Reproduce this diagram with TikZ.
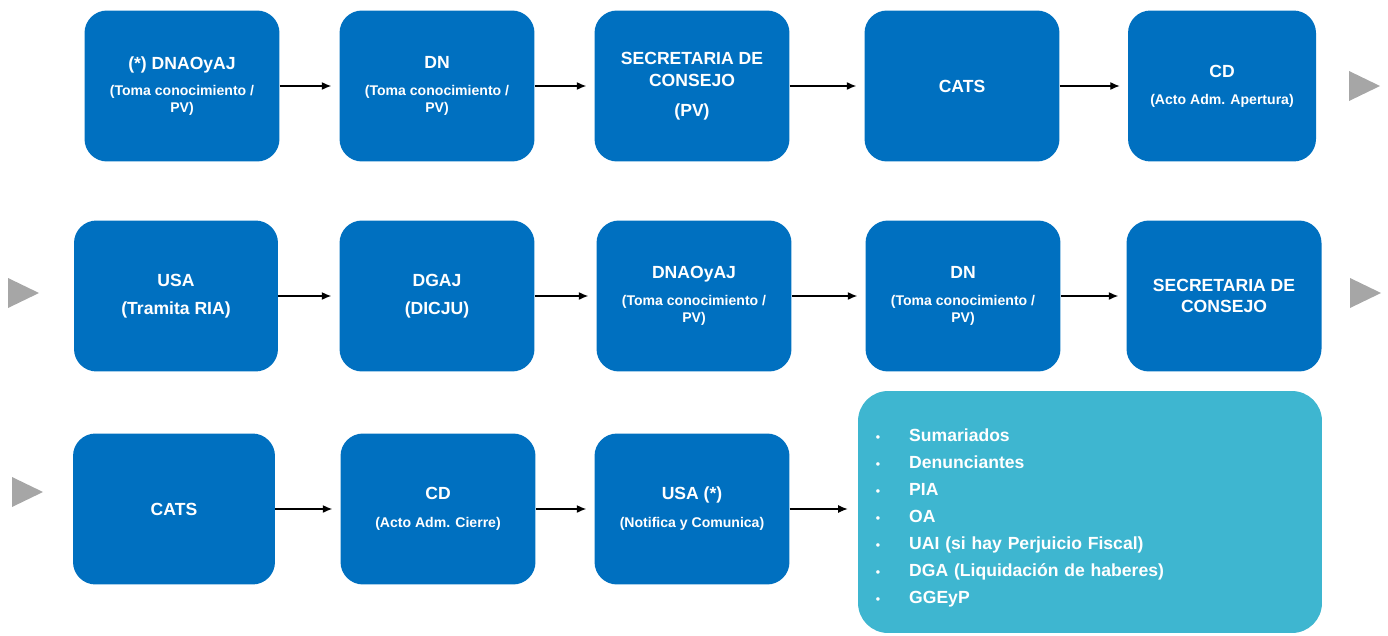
\documentclass[tikz,border=0pt]{standalone}
\usepackage{fontspec}
\setmainfont{Liberation Sans}
\usetikzlibrary{arrows.meta,positioning}
\definecolor{boxblue}{RGB}{0,112,192}
\definecolor{listcyan}{RGB}{62,182,208}
\definecolor{trigray}{RGB}{166,166,166}
\newcommand{\subf}{\fontsize{8}{10}\selectfont}
\newcommand{\lbul}{\makebox[19pt][l]{\fontsize{7}{8}\selectfont\textbullet}}

\begin{document}
\begin{tikzpicture}[x=0.02cm,y=-0.02cm,
		stepbox/.style={rectangle,rounded corners=0.45cm,fill=boxblue,text=white,minimum width=3.9cm,minimum height=3.02cm,align=center,inner sep=2pt,font=\bfseries\fontsize{10}{13}\selectfont},
		listbox/.style={rectangle,rounded corners=0.6cm,fill=listcyan,text=white,minimum width=9.28cm,minimum height=4.84cm,text width=8.57cm,align=left,inner xsep=10pt,font=\bfseries\fontsize{10}{15.4}\selectfont},
		flow/.style={-{Latex[length=1.9mm,width=1.6mm]},black,line width=0.7pt,shorten >=4.5pt},
		tri/.style={fill=trigray}
		]
		\useasboundingbox (0,0) rectangle (1388,635);
		
		% first row
		\node[stepbox] (b1) at (182,86) {(*) DNAOyAJ\\[2.3pt]{\subf (Toma conocimiento /}\\[-3.4pt]{\subf PV)}};
		\node[stepbox] (b2) at (437,86) {DN\\[2.3pt]{\subf (Toma conocimiento /}\\[-3.4pt]{\subf PV)}};
		\node[stepbox] (b3) at (692,86) {SECRETARIA DE\\[-0.5pt]CONSEJO\\[4pt](PV)};
		\node[stepbox] (b4) at (962,86) {CATS};
		\node[stepbox,minimum width=3.76cm] (b5) at (1222,86) {CD\\[2.3pt]{\subf (Acto Adm. Apertura)}};
		\draw[flow] (b1) -- (b2);
		\draw[flow] (b2) -- (b3);
		\draw[flow] (b3) -- (b4);
		\draw[flow] (b4) -- (b5);
		
		% second row
		\node[stepbox,minimum width=4.08cm] (c1) at (176,296) {USA\\[3pt](Tramita RIA)};
		\node[stepbox] (c2) at (437,296) {DGAJ\\[3pt](DICJU)};
		\node[stepbox] (c3) at (694,296) {DNAOyAJ\\[2.3pt]{\subf (Toma conocimiento /}\\[-3.4pt]{\subf PV)}};
		\node[stepbox] (c4) at (963,296) {DN\\[2.3pt]{\subf (Toma conocimiento /}\\[-3.4pt]{\subf PV)}};
		\node[stepbox] (c5) at (1224,296) {SECRETARIA DE\\[-1pt]CONSEJO};
		\draw[flow] (c1) -- (c2);
		\draw[flow] (c2) -- (c3);
		\draw[flow] (c3) -- (c4);
		\draw[flow] (c4) -- (c5);
		
		% third row
		\node[stepbox,minimum width=4.04cm] (d1) at (174,509) {CATS};
		\node[stepbox] (d2) at (438,509) {CD\\[3pt]{\subf (Acto Adm. Cierre)}};
		\node[stepbox] (d3) at (692,509) {USA (*)\\[3pt]{\subf (Notifica y Comunica)}};
		\node[listbox] (lst) at (1090,512) {\rule{0pt}{14pt}\lbul Sumariados\\\lbul Denunciantes\\\lbul PIA\\\lbul OA\\\lbul UAI (si hay Perjuicio Fiscal)\\\lbul DGA (Liquidación de haberes)\\\lbul GGEyP};
		\draw[flow] (d1) -- (d2);
		\draw[flow] (d2) -- (d3);
		\draw[flow,shorten >=5.7pt] (d3) -- (d3 -| lst.west);
		
		% row markers
		\foreach \x/\y in {1364/86, 1365/293, 23/293, 27/492}
			\fill[tri] (\x-15,\y-15) -- (\x+16,\y) -- (\x-15,\y+15) -- cycle;
	\end{tikzpicture}
\end{document}
